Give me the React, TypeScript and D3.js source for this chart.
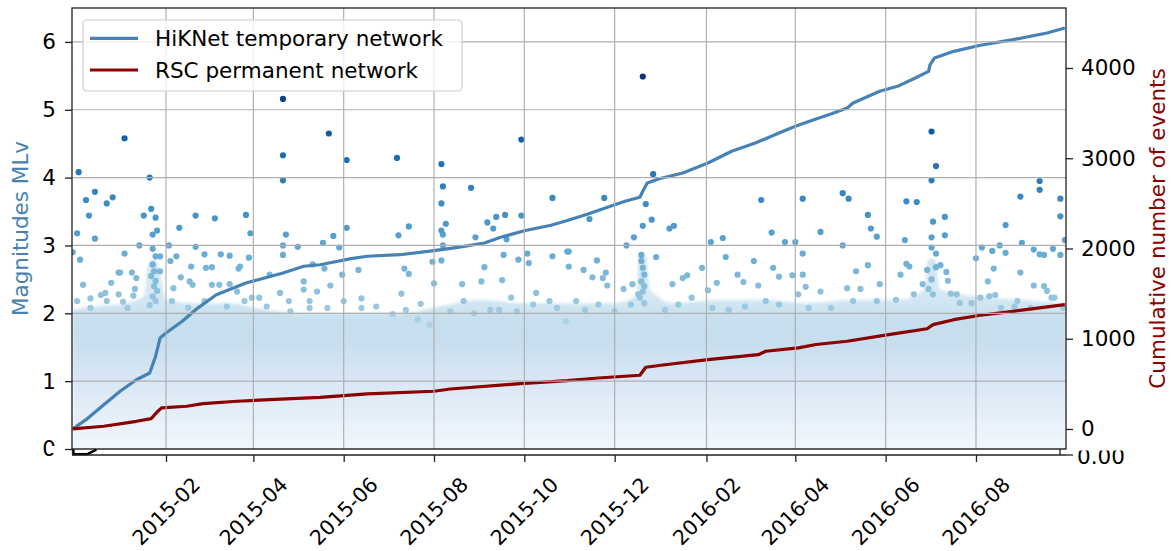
import * as d3 from 'd3';
import { useEffect, useRef } from 'react';

// cumulative number of events, HiKNet temporary network
const blueDates = [
  '2014-11-30', '2014-12-09', '2014-12-21', '2015-01-01', '2015-01-12', '2015-01-21', '2015-01-25',
  '2015-01-28', '2015-02-01', '2015-02-12', '2015-02-21', '2015-03-07', '2015-03-27', '2015-04-21',
  '2015-05-05', '2015-05-16', '2015-06-06', '2015-06-17', '2015-07-09', '2015-08-01', '2015-08-17',
  '2015-09-04', '2015-09-15', '2015-10-01', '2015-10-19', '2015-10-30', '2015-11-13', '2015-12-01',
  '2015-12-08', '2015-12-18', '2015-12-20', '2015-12-23', '2015-12-31', '2016-01-16', '2016-02-02',
  '2016-02-18', '2016-03-05', '2016-03-21', '2016-04-01', '2016-04-15', '2016-04-25', '2016-05-06',
  '2016-05-10', '2016-05-28', '2016-06-09', '2016-06-20', '2016-06-30', '2016-07-01', '2016-07-04',
  '2016-07-17', '2016-08-04', '2016-08-26', '2016-09-18', '2016-09-30',
];
const blueCounts = [
  0, 103, 269, 418, 546, 620, 806, 1008, 1064, 1193, 1322, 1488, 1618, 1728, 1803, 1820, 1887, 1914,
  1931, 1976, 2013, 2061, 2124, 2197, 2257, 2310, 2382, 2485, 2523, 2567, 2634, 2726, 2773, 2837, 2947,
  3077, 3169, 3280, 3354, 3435, 3490, 3557, 3612, 3742, 3797, 3881, 3963, 4037, 4111, 4185, 4252, 4314,
  4388, 4443,
];

// cumulative number of events, RSC permanent network
const redDates = [
  '2014-11-30', '2014-12-21', '2015-01-12', '2015-01-22', '2015-01-26', '2015-01-29', '2015-02-15',
  '2015-02-26', '2015-03-21', '2015-04-12', '2015-05-16', '2015-06-17', '2015-08-01', '2015-08-12',
  '2015-09-26', '2015-10-30', '2015-11-20', '2015-12-18', '2015-12-22', '2016-01-04', '2016-02-02',
  '2016-03-07', '2016-03-12', '2016-04-03', '2016-04-15', '2016-05-06', '2016-06-03', '2016-06-29',
  '2016-07-03', '2016-07-17', '2016-08-04', '2016-08-26', '2016-09-30',
];
const redCounts = [
  0, 30, 85, 114, 188, 233, 252, 280, 307, 325, 351, 388, 418, 443, 499, 535, 565, 595, 684, 712, 768,
  823, 861, 898, 936, 972, 1045, 1111, 1156, 1211, 1260, 1304, 1377,
];

// upper edge of the dense cloud of small events (magnitude)
const cloudDates = [
  '2014-11-30', '2014-12-15', '2015-01-05', '2015-01-17', '2015-01-20', '2015-01-24', '2015-01-28',
  '2015-02-01', '2015-02-20', '2015-03-15', '2015-04-10', '2015-05-10', '2015-06-10', '2015-07-10',
  '2015-08-05', '2015-09-01', '2015-10-01', '2015-11-01', '2015-12-01', '2015-12-15', '2015-12-18',
  '2015-12-22', '2015-12-25', '2016-01-10', '2016-02-10', '2016-03-10', '2016-04-10', '2016-05-10',
  '2016-06-10', '2016-06-27', '2016-06-30', '2016-07-04', '2016-07-08', '2016-08-01', '2016-09-01',
  '2016-10-01',
];
const cloudTop = [
  2.05, 2.1, 2.15, 2.25, 2.7, 2.8, 2.6, 2.2, 2.15, 2.15, 2.05, 2.0, 2.0, 2.0, 2.1, 2.2, 2.15, 2.15, 2.15,
  2.25, 2.85, 2.85, 2.35, 2.15, 2.2, 2.2, 2.15, 2.2, 2.2, 2.35, 2.8, 2.8, 2.35, 2.25, 2.2, 2.15,
];

// individual events standing out above the cloud: [date, magnitude]
const events: [string, number][] = [
  ['2014-12-04', 4.08], ['2015-01-04', 4.58], ['2015-01-21', 4.0], ['2014-12-09', 3.67], ['2014-12-15', 3.79],
  ['2014-12-11', 3.44], ['2014-12-23', 3.62], ['2014-12-27', 3.71], ['2014-12-03', 3.18], ['2014-12-15', 3.1],
  ['2014-11-30', 2.9], ['2014-12-05', 2.79], ['2015-01-22', 3.54], ['2015-01-25', 3.41], ['2015-01-17', 3.44],
  ['2015-01-26', 3.22], ['2015-01-23', 3.16], ['2015-01-14', 3.0], ['2015-01-04', 2.88], ['2015-01-23', 2.95],
  ['2015-01-25', 2.84], ['2015-01-28', 2.84], ['2015-02-03', 3.0], ['2015-02-10', 3.26], ['2015-02-21', 3.44],
  ['2015-03-06', 3.4], ['2015-03-27', 3.45], ['2015-03-30', 3.18], ['2015-02-21', 2.98], ['2015-02-08', 2.84],
  ['2015-02-27', 2.87], ['2015-03-10', 2.87], ['2015-02-18', 2.69], ['2015-03-04', 2.68], ['2015-03-22', 2.66],
  ['2015-03-29', 2.82], ['2015-04-21', 5.16], ['2015-04-21', 4.33], ['2015-04-21', 3.96], ['2015-04-23', 3.16],
  ['2015-04-21', 3.0], ['2015-04-21', 2.86], ['2015-05-01', 2.98], ['2014-12-31', 2.6], ['2015-01-12', 2.52],
  ['2014-12-07', 2.42], ['2014-12-12', 2.22], ['2014-12-19', 2.27], ['2014-12-22', 2.3], ['2014-12-26', 2.45],
  ['2014-12-31', 2.28], ['2015-01-10', 2.26], ['2015-01-01', 2.6], ['2015-01-11', 2.36], ['2015-01-03', 2.17],
  ['2015-01-09', 2.6], ['2015-02-04', 2.77], ['2015-03-16', 2.85], ['2015-03-23', 2.69], ['2015-04-05', 2.23],
  ['2015-04-12', 2.57], ['2015-05-05', 2.35], ['2015-05-11', 2.72], ['2015-05-09', 2.08], ['2015-02-06', 2.37],
  ['2015-03-09', 2.42], ['2015-02-17', 2.47], ['2015-01-28', 2.62], ['2015-01-23', 2.72], ['2015-01-24', 2.62],
  ['2015-01-22', 2.55], ['2015-01-25', 2.48], ['2015-01-24', 2.4], ['2015-01-26', 2.33], ['2015-01-23', 2.25],
  ['2015-01-25', 2.18], ['2015-01-21', 2.12], ['2015-02-11', 2.53], ['2015-02-19', 2.42], ['2015-02-28', 2.67],
  ['2015-03-04', 2.42], ['2015-03-16', 2.43], ['2015-03-21', 2.32], ['2015-03-31', 2.23], ['2015-04-19', 2.3],
  ['2015-04-25', 2.18], ['2015-05-05', 2.47], ['2015-05-14', 2.32],
  ['2014-12-03', 2.18], ['2014-12-12', 2.08], ['2014-12-23', 2.18], ['2015-01-06', 2.08], ['2015-02-05', 2.18],
  ['2015-02-16', 2.08], ['2015-02-27', 2.18], ['2015-03-14', 2.1], ['2015-03-26', 2.18], ['2015-04-10', 2.1],
  ['2015-04-26', 2.03], ['2015-05-09', 2.18],
  ['2015-05-22', 4.65], ['2015-06-03', 4.26], ['2015-07-07', 4.29], ['2015-08-06', 4.2], ['2015-08-07', 3.87],
  ['2015-08-06', 3.62], ['2015-08-26', 3.85], ['2015-09-29', 4.56], ['2015-09-29', 3.44], ['2015-10-20', 3.7],
  ['2015-06-03', 3.26], ['2015-05-25', 3.14], ['2015-07-15', 3.28], ['2015-07-08', 3.15], ['2015-05-18', 3.04],
  ['2015-05-29', 2.97], ['2015-08-09', 3.32], ['2015-08-06', 3.22], ['2015-08-07', 3.16], ['2015-09-06', 3.34],
  ['2015-09-10', 3.25], ['2015-09-12', 3.42], ['2015-09-18', 3.45], ['2015-08-29', 3.12], ['2015-09-19', 3.09],
  ['2015-08-07', 3.0], ['2015-08-06', 2.78], ['2015-07-31', 2.76], ['2015-09-17', 2.86], ['2015-09-27', 2.79],
  ['2015-10-03', 2.88], ['2015-10-04', 2.74], ['2015-10-20', 2.84], ['2015-10-30', 2.91], ['2015-05-19', 2.66],
  ['2015-05-31', 2.57], ['2015-06-11', 2.64], ['2015-07-12', 2.66], ['2015-07-15', 2.58], ['2015-09-04', 2.68],
  ['2015-08-20', 2.43], ['2015-08-01', 2.44], ['2015-09-02', 2.47], ['2015-09-16', 2.49], ['2015-05-23', 2.41],
  ['2015-07-10', 2.29], ['2015-06-13', 2.22], ['2015-07-23', 2.14], ['2015-10-09', 2.3], ['2015-10-18', 2.18],
  ['2015-09-22', 2.23],
  ['2015-05-21', 2.08], ['2015-06-01', 2.18], ['2015-06-13', 2.08], ['2015-06-23', 2.1], ['2015-07-04', 1.99],
  ['2015-07-13', 2.05], ['2015-07-21', 1.91], ['2015-07-29', 1.83], ['2015-08-12', 2.03], ['2015-08-21', 2.18],
  ['2015-08-28', 2.0], ['2015-09-08', 2.05], ['2015-09-14', 2.05], ['2015-09-26', 2.03], ['2015-10-07', 2.13],
  ['2015-10-23', 2.08], ['2015-10-29', 1.88],
  ['2015-12-20', 5.49], ['2015-12-27', 4.05], ['2015-11-24', 3.7], ['2015-12-22', 3.61], ['2015-11-14', 3.39],
  ['2015-12-26', 3.38], ['2015-12-20', 3.29], ['2016-01-07', 3.25], ['2016-01-10', 3.29], ['2015-12-14', 3.12],
  ['2015-12-09', 3.0], ['2016-03-09', 3.67], ['2016-04-06', 3.69], ['2016-03-16', 3.19], ['2016-02-04', 3.05],
  ['2016-02-12', 3.11], ['2016-03-25', 3.05], ['2016-04-01', 3.05], ['2016-04-06', 2.88], ['2015-10-31', 2.91],
  ['2015-12-19', 2.86], ['2015-12-29', 2.83], ['2015-11-19', 2.78], ['2015-10-31', 2.69], ['2015-11-10', 2.64],
  ['2015-11-25', 2.6], ['2016-02-14', 2.83], ['2016-03-04', 2.77], ['2016-01-29', 2.67], ['2016-03-17', 2.67],
  ['2016-04-06', 2.57], ['2015-11-16', 2.53], ['2015-11-23', 2.52], ['2015-11-26', 2.41], ['2016-02-22', 2.57],
  ['2016-01-19', 2.56], ['2016-01-16', 2.52], ['2016-01-09', 2.43], ['2016-02-26', 2.46], ['2016-03-07', 2.41],
  ['2016-03-21', 2.54], ['2016-03-30', 2.56], ['2015-12-13', 2.43], ['2015-12-07', 2.36], ['2016-02-08', 2.45],
  ['2016-02-02', 2.34], ['2016-04-08', 2.39], ['2015-12-19', 2.77], ['2015-12-20', 2.67], ['2015-12-21', 2.57],
  ['2015-12-19', 2.47], ['2015-12-21', 2.4], ['2015-12-20', 2.32], ['2015-12-18', 2.23], ['2015-12-21', 2.15],
  ['2015-12-17', 2.28],
  ['2015-11-05', 2.18], ['2015-11-11', 2.05], ['2015-11-20', 2.13], ['2015-12-01', 2.03], ['2015-12-12', 2.13],
  ['2016-01-04', 2.05], ['2016-01-13', 2.13], ['2016-01-22', 2.23], ['2016-02-05', 2.08], ['2016-02-16', 2.05],
  ['2016-02-27', 2.1], ['2016-03-12', 2.18], ['2016-03-21', 2.13], ['2016-04-03', 2.28], ['2016-04-10', 2.08],
  ['2016-07-02', 4.68], ['2016-07-05', 4.17], ['2016-07-02', 3.96], ['2016-05-03', 3.77], ['2016-05-07', 3.69],
  ['2016-06-15', 3.65], ['2016-06-22', 3.64], ['2016-05-20', 3.45], ['2016-05-22', 3.25], ['2016-05-26', 3.13],
  ['2016-04-18', 3.2], ['2016-05-03', 3.0], ['2016-06-14', 3.08], ['2016-07-03', 3.35], ['2016-07-11', 3.42],
  ['2016-07-11', 3.15], ['2016-07-02', 3.12], ['2016-07-02', 2.97], ['2016-07-05', 2.88], ['2016-08-31', 3.72],
  ['2016-09-13', 3.95], ['2016-09-13', 3.82], ['2016-09-27', 3.69], ['2016-09-27', 3.43], ['2016-08-21', 3.3],
  ['2016-09-01', 3.04], ['2016-09-30', 3.08], ['2016-08-05', 2.97], ['2016-08-12', 2.92], ['2016-08-17', 3.0],
  ['2016-08-21', 2.89], ['2016-09-09', 2.94], ['2016-09-13', 2.87], ['2016-09-16', 2.86], ['2016-09-22', 2.95],
  ['2016-09-27', 2.86], ['2016-08-01', 2.81], ['2016-08-13', 2.66], ['2016-08-31', 2.6], ['2016-06-15', 2.73],
  ['2016-06-17', 2.69], ['2016-05-20', 2.71], ['2016-05-12', 2.62], ['2016-06-29', 2.64], ['2016-07-05', 2.68],
  ['2016-07-08', 2.71], ['2016-07-12', 2.61], ['2016-06-11', 2.57], ['2016-05-28', 2.43], ['2016-05-15', 2.36],
  ['2016-05-06', 2.37], ['2016-04-18', 2.32], ['2016-06-26', 2.43], ['2016-07-02', 2.5], ['2016-07-13', 2.48],
  ['2016-09-09', 2.41], ['2016-09-16', 2.4], ['2016-09-18', 2.33], ['2016-07-29', 2.15], ['2016-08-09', 2.47],
  ['2016-08-10', 2.25], ['2016-08-14', 2.27], ['2016-07-15', 2.29], ['2016-07-19', 2.28], ['2016-08-27', 2.1],
  ['2016-09-21', 2.23], ['2016-07-03', 2.28], ['2016-06-30', 2.36],
  ['2016-04-25', 2.08], ['2016-05-10', 2.18], ['2016-05-26', 2.18], ['2016-06-08', 2.2], ['2016-06-20', 2.28],
  ['2016-07-21', 2.15], ['2016-08-04', 2.23], ['2016-08-18', 2.08], ['2016-08-29', 2.18], ['2016-09-07', 2.08],
  ['2016-09-23', 2.23], ['2016-09-29', 2.08],
];

// trace of the squashed lower panel
const lowerDates = ['2014-11-30T12:00Z', '2014-11-30T12:00Z', '2014-12-10', '2014-12-16'];
const lowerValues = [1, 0.15, 0.15, 0.9];

const tickMonths = ['2015-02', '2015-04', '2015-06', '2015-08', '2015-10', '2015-12', '2016-02', '2016-04', '2016-06', '2016-08'];
const magTicks = [0, 1, 2, 3, 4, 5, 6];
const countTicks = [0, 1000, 2000, 3000, 4000];

const FONT = 'DejaVu Sans, sans-serif';

export default function App() {
  const ref = useRef<SVGSVGElement>(null);

  useEffect(() => {
    const svg = d3.select(ref.current);
    svg.selectAll('*').remove();

    const L = 72, R = 1066, T = 8, B = 449;
    const parse = (s: string) => d3.isoParse(s) as Date;

    const x = d3.scaleUtc().domain([parse('2014-11-30'), parse('2016-10-01')]).range([72.7, 1066.3]);
    const yMag = d3.scaleLinear().domain([0, 6.5]).range([B, T]);
    const yCnt = d3.scaleLinear().domain([-222, 4665]).range([B, T]);
    const yLow = d3.scaleLinear().domain([0, 1]).range([455, 449]);
    const color = d3.scaleSequential(d3.interpolateBlues).domain([0, 5.6]);

    const defs = svg.append('defs');
    defs.append('clipPath').attr('id', 'plot')
      .append('rect').attr('x', L).attr('y', T).attr('width', R - L).attr('height', B - T);
    defs.append('clipPath').attr('id', 'lowLabel')
      .append('rect').attr('x', 1060).attr('y', 450.5).attr('width', 100).attr('height', 30);

    const grad = defs.append('linearGradient').attr('id', 'cloudFill')
      .attr('gradientUnits', 'userSpaceOnUse')
      .attr('x1', 0).attr('x2', 0).attr('y1', yMag(0)).attr('y2', yMag(2.9));
    const stops: [number, number, number][] = [
      [0, 0.03, 0.95], [1, 0.17, 0.9], [1.55, 0.27, 0.85], [1.9, 0.33, 0.68], [2.15, 0.38, 0.45],
      [2.4, 0.42, 0.35], [2.9, 0.5, 0.4],
    ];
    stops.forEach(([m, t, o]) => {
      grad.append('stop').attr('offset', m / 2.9).attr('stop-color', d3.interpolateBlues(t)).attr('stop-opacity', o);
    });
    defs.append('filter').attr('id', 'soft')
      .append('feGaussianBlur').attr('stdDeviation', 1.8);

    svg.append('rect').attr('width', 1173).attr('height', 551).attr('fill', '#fff');

    const plot = svg.append('g').attr('clip-path', 'url(#plot)');

    // dense cloud of small events
    const cloud = cloudDates.map((d, i) => ({ d: parse(d), m: cloudTop[i] }));
    plot.append('path')
      .datum(cloud)
      .attr('d', d3.area<{ d: Date; m: number }>()
        .x(p => x(p.d)).y0(yMag(-0.1)).y1(p => yMag(p.m))
        .curve(d3.curveMonotoneX))
      .attr('fill', 'url(#cloudFill)')
      .attr('filter', 'url(#soft)');

    // individual events
    const pts = events.map(([d, m]) => ({ d: parse(d), m })).sort((a, b) => a.m - b.m);
    plot.append('g').selectAll('circle')
      .data(pts)
      .enter()
      .append('circle')
      .attr('cx', p => x(p.d))
      .attr('cy', p => yMag(p.m))
      .attr('r', 3.1)
      .attr('fill', p => color(p.m));

    // grid
    const grid = svg.append('g').attr('stroke', '#b0b0b0').attr('stroke-width', 1.2);
    tickMonths.forEach(t => {
      const gx = x(parse(t + '-01'));
      grid.append('line').attr('x1', gx).attr('x2', gx).attr('y1', T).attr('y2', B);
    });
    magTicks.forEach(t => {
      grid.append('line').attr('x1', L).attr('x2', R).attr('y1', yMag(t)).attr('y2', yMag(t));
    });

    // cumulative curves
    const line = d3.line<[Date, number]>().x(p => x(p[0])).y(p => yCnt(p[1]));
    plot.append('path')
      .datum(blueDates.map((d, i) => [parse(d), blueCounts[i]] as [Date, number]))
      .attr('d', line).attr('fill', 'none').attr('stroke', '#4682b4').attr('stroke-width', 3.2)
      .attr('stroke-linejoin', 'round');
    plot.append('path')
      .datum(redDates.map((d, i) => [parse(d), redCounts[i]] as [Date, number]))
      .attr('d', line).attr('fill', 'none').attr('stroke', '#8b0000').attr('stroke-width', 3.2)
      .attr('stroke-linejoin', 'round');

    // lower squashed panel
    svg.append('path')
      .datum(lowerDates.map((d, i) => [parse(d), lowerValues[i]] as [Date, number]))
      .attr('d', d3.line<[Date, number]>().x(p => x(p[0])).y(p => yLow(p[1])))
      .attr('fill', 'none').attr('stroke', '#000').attr('stroke-width', 2.4);
    const low = svg.append('g').attr('stroke', '#222').attr('stroke-width', 1.3);
    low.append('line').attr('x1', L).attr('x2', R).attr('y1', 455).attr('y2', 455);
    low.append('line').attr('x1', 72.5).attr('x2', 72.5).attr('y1', B).attr('y2', 455);
    low.append('line').attr('x1', 1060).attr('x2', 1060).attr('y1', B).attr('y2', 455);
    low.append('line').attr('x1', R).attr('x2', R + 7).attr('y1', 455).attr('y2', 455);

    const xAxis = svg.append('g').attr('transform', 'translate(0,455)')
      .call(d3.axisBottom(x).tickValues(tickMonths.map(t => parse(t + '-01'))).tickSize(7).tickFormat(() => ''));
    xAxis.select('.domain').remove();
    xAxis.selectAll('line').attr('stroke', '#222').attr('stroke-width', 1.3);

    tickMonths.forEach(t => {
      const tx = x(parse(t + '-01'));
      svg.append('text')
        .attr('transform', `translate(${tx},511) rotate(-45)`)
        .attr('text-anchor', 'middle').attr('dy', '0.36em')
        .attr('font-family', FONT).attr('font-size', 20.5).attr('fill', '#000')
        .text(t);
    });

    svg.append('text')
      .attr('x', 1077).attr('y', 456).attr('dy', '0.36em')
      .attr('clip-path', 'url(#lowLabel)')
      .attr('font-family', FONT).attr('font-size', 21.5).attr('fill', '#000')
      .text('0.00');

    // frame
    svg.append('rect').attr('x', L).attr('y', T).attr('width', R - L).attr('height', B - T)
      .attr('fill', 'none').attr('stroke', '#222').attr('stroke-width', 1.3);

    // left axis
    const left = svg.append('g').attr('transform', `translate(${L},0)`)
      .call(d3.axisLeft(yMag).tickValues(magTicks).tickSize(7).tickPadding(9).tickFormat(d3.format('d')));
    left.select('.domain').remove();
    left.selectAll('line').attr('stroke', '#222').attr('stroke-width', 1.3);
    left.selectAll('text').attr('font-family', FONT).attr('font-size', 21.5).attr('fill', '#000');
    svg.append('rect').attr('x', 51).attr('y', 446).attr('width', 6).attr('height', 7).attr('fill', '#fff');

    // right axis
    const right = svg.append('g').attr('transform', `translate(${R},0)`)
      .call(d3.axisRight(yCnt).tickValues(countTicks).tickSize(7).tickPadding(8).tickFormat(d3.format('d')));
    right.select('.domain').remove();
    right.selectAll('line').attr('stroke', '#222').attr('stroke-width', 1.3);
    right.selectAll('text').attr('font-family', FONT).attr('font-size', 21.5).attr('fill', '#000');

    // axis titles
    svg.append('text')
      .attr('transform', `translate(20,${(T + B) / 2}) rotate(-90)`)
      .attr('text-anchor', 'middle').attr('dy', '0.35em')
      .attr('font-family', FONT).attr('font-size', 21.5).attr('fill', '#4682b4')
      .text('Magnitudes MLv');
    svg.append('text')
      .attr('transform', `translate(1157,${(T + B) / 2}) rotate(-90)`)
      .attr('text-anchor', 'middle').attr('dy', '0.35em')
      .attr('font-family', FONT).attr('font-size', 21.5).attr('fill', '#8b0000')
      .text('Cumulative number of events');

    // legend
    const lg = svg.append('g');
    lg.append('rect').attr('x', 83).attr('y', 20).attr('width', 379).attr('height', 71).attr('rx', 4)
      .attr('fill', '#fff').attr('fill-opacity', 0.8).attr('stroke', '#cccccc').attr('stroke-width', 1.2);
    const items: [string, string][] = [['HiKNet temporary network', '#4682b4'], ['RSC permanent network', '#8b0000']];
    items.forEach(([label, c], i) => {
      const ly = 38.3 + i * 31.7;
      lg.append('line').attr('x1', 90).attr('x2', 138).attr('y1', ly).attr('y2', ly)
        .attr('stroke', c).attr('stroke-width', 3.2);
      lg.append('text').attr('x', 155).attr('y', ly).attr('dy', '0.35em')
        .attr('font-family', FONT).attr('font-size', 21.5).attr('fill', '#000')
        .text(label);
    });
  }, []);

  return <svg ref={ref} width={1173} height={551} style={{ position: 'absolute', left: 0, top: 0 }} />;
}
